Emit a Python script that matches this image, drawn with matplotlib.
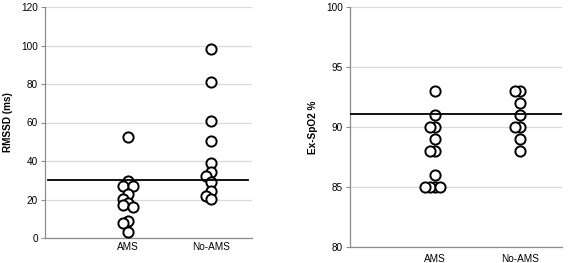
import numpy as np
import matplotlib
matplotlib.use("Agg")
import matplotlib.pyplot as plt

plt.rcParams['font.family'] = ['Liberation Sans', 'DejaVu Sans']

groups = ['AMS', 'No-AMS']

rmssd_ams = [52.5, 29.5, 27, 27, 23, 20.5, 18, 17, 16, 9, 8, 3]
rmssd_noams = [98, 81, 61, 50.5, 39, 34.5, 32, 29, 24.5, 22, 20.5]
rmssd_ref = 30

spo2_ams = [93, 91, 90, 90, 89, 88, 88, 86, 85, 85, 85, 85]
spo2_noams = [93, 93, 92, 91, 90, 90, 89, 88]
spo2_ref = 91.1

W, H = 570, 263
fig = plt.figure(figsize=(W / 100, H / 100), dpi=100)


def swarm(vals, ypx, step, mind):
    # greedy placement: keep points apart by mind pixels, shift sideways in steps
    placed = []
    xs = []
    for v in vals:
        y = v * ypx
        for k in [0, -1, 1, -2, 2, -3, 3]:
            x = k * step
            if all(np.hypot(x - px, y - py) >= mind for px, py in placed):
                break
        placed.append((x, y))
        xs.append(x)
    return np.array(xs)


def panel(rect, ylim, yticks, ylabel, a, b, ref, line_span, label_pad):
    ax = fig.add_axes(rect)
    ax.set_xlim(0, 2.5)
    ax.set_ylim(*ylim)
    wpx = rect[2] * W
    hpx = rect[3] * H
    xpx = wpx / 2.5
    ypx = hpx / (ylim[1] - ylim[0])
    for i, vals in enumerate([a, b]):
        off = swarm(vals, ypx, 5.0, 4.9) / xpx
        ax.scatter(i + 1 + off, vals, s=54, facecolor='white',
                   edgecolor='black', linewidth=1.4, zorder=3)
    ax.axhline(ref, xmin=line_span[0], xmax=line_span[1], color='black',
               linewidth=1.3, zorder=4)
    ax.set_yticks(yticks)
    ax.set_xticks([1, 2])
    ax.set_xticklabels(groups)
    ax.yaxis.grid(True, color='#d9d9d9', linewidth=0.9)
    ax.set_axisbelow(True)
    for s in ['top', 'right']:
        ax.spines[s].set_visible(False)
    for s in ['left', 'bottom']:
        ax.spines[s].set_color('#8c8c8c')
        ax.spines[s].set_linewidth(0.9)
    ax.tick_params(axis='y', length=3, color='#8c8c8c', labelsize=7.2, pad=2)
    ax.tick_params(axis='x', length=0, labelsize=7.2, pad=label_pad)
    ax.set_ylabel(ylabel, fontsize=7.2, fontweight='bold', labelpad=6)
    return ax


panel([45 / W, 25 / H, 207 / W, 231 / H], (0, 120), np.arange(0, 121, 20),
      'RMSSD (ms)', rmssd_ams, rmssd_noams, rmssd_ref, (0.015, 0.98), 3)
panel([350 / W, 16 / H, 212 / W, 240 / H], (80, 100), np.arange(80, 101, 5),
      'Ex-SpO2 %', spo2_ams, spo2_noams, spo2_ref, (0.0, 1.0), 5)

fig.savefig('out.png', dpi=100)
